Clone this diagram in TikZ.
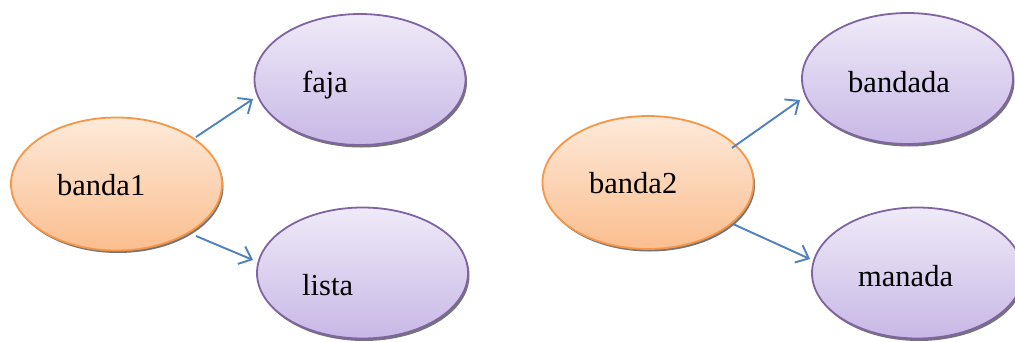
\documentclass[tikz,border=0pt]{standalone}
\usepackage{fontspec}
\setmainfont{Liberation Serif}
\usetikzlibrary{shapes.geometric,arrows.meta,calc,shadows}

\definecolor{orangeTop}{RGB}{253,234,218}
\definecolor{orangeBot}{RGB}{251,190,143}
\definecolor{orangeLine}{RGB}{247,150,70}
\definecolor{violetTop}{RGB}{239,234,248}
\definecolor{violetBot}{RGB}{200,184,230}
\definecolor{violetLine}{RGB}{128,100,162}
\definecolor{linkBlue}{RGB}{79,129,189}

\tikzset{
  bubble/.style={ellipse, inner sep=0pt, outer sep=0pt,
    minimum width=211pt, line width=1.8pt,
    drop shadow={shadow xshift=1.5pt, shadow yshift=-2.5pt,
      fill=black!60, opacity=0.9}},
  source/.style={bubble, minimum height=133pt, draw=orangeLine,
    top color=orangeTop, bottom color=orangeBot},
  target/.style={bubble, minimum height=131pt, draw=violetLine,
    top color=violetTop, bottom color=violetBot},
  word/.style={anchor=base west, inner sep=0pt, text=black,
    font=\fontsize{30.5}{36}\selectfont},
  link/.style={draw=linkBlue, line width=1.9pt,
    -{Straight Barb[length=11pt,width=19pt,line width=1.9pt]}}
}

\begin{document}
\begin{tikzpicture}[x=1pt,y=-1pt]
  \useasboundingbox (0,0) rectangle (1015,341);

  % ellipses
  \node[source] (banda1)  at (116.5,184)  {};
  \node[target] (faja)    at (360,79.5)   {};
  \node[target] (lista)   at (362.5,273)  {};
  \node[source] (banda2)  at (648,182.5)  {};
  \node[target] (bandada) at (907.5,78.5) {};
  \node[target] (manada)  at (917.5,273)  {};

  % labels
  \node[word] (t-banda1)  at (57,195)  {banda1};
  \node[word] (t-faja)    at (302,92)  {faja};
  \node[word] (t-lista)   at (302,295) {lista};
  \node[word] (t-banda2)  at (589,193) {banda2};
  \node[word] (t-bandada) at (848,92)  {bandada};
  \node[word] (t-manada)  at (858,286) {manada};

  % connectors
  \draw[link] ($(banda1.center)+(79.5,-47)$) -- ($(faja.center)+(-107,19.5)$);
  \draw[link] ($(banda1.center)+(79.5,52)$)  -- ($(lista.center)+(-109.5,-13)$);
  \draw[link] ($(banda2.center)+(84,-34.5)$) -- ($(bandada.center)+(-107.5,21.5)$);
  \draw[link] ($(banda2.center)+(85,41.5)$)  -- ($(manada.center)+(-107.5,-14)$);
\end{tikzpicture}
\end{document}
